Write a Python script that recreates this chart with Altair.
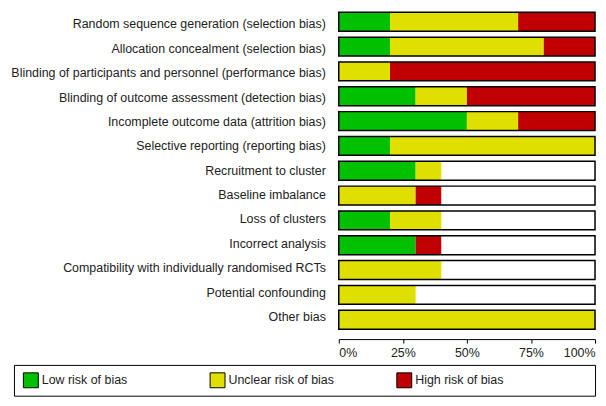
import altair as alt
import pandas as pd

FONT = "Liberation Sans"
FS = 12.5
TXT = "#222"

categories = [
    "Random sequence generation (selection bias)",
    "Allocation concealment (selection bias)",
    "Blinding of participants and personnel (performance bias)",
    "Blinding of outcome assessment (detection bias)",
    "Incomplete outcome data (attrition bias)",
    "Selective reporting (reporting bias)",
    "Recruitment to cluster",
    "Baseline imbalance",
    "Loss of clusters",
    "Incorrect analysis",
    "Compatibility with individually randomised RCTs",
    "Potential confounding",
    "Other bias",
]
low = [20, 20, 0, 30, 50, 20, 30, 0, 20, 30, 0, 0, 0]
unclear = [50, 60, 20, 20, 20, 80, 10, 30, 20, 0, 40, 30, 100]
high = [30, 20, 80, 50, 30, 0, 0, 10, 0, 10, 0, 0, 0]
levels = ["Low risk of bias", "Unclear risk of bias", "High risk of bias"]
colors = ["#00C000", "#E0E000", "#C00000"]
ticks = [0, 25, 50, 75, 100]

rows = []
for i, cat in enumerate(categories):
    start = 0
    for lev, vals in zip(levels, [low, unclear, high]):
        v = vals[i]
        if v > 0:
            rows.append({"category": cat, "level": lev, "start": start, "end": start + v})
        start += v
seg_df = pd.DataFrame(rows)
out_df = pd.DataFrame({"category": categories, "lo": [0] * len(categories), "hi": [100] * len(categories)})
leg_df = pd.DataFrame({"level": levels})

color_scale = alt.Scale(domain=levels, range=colors)
band = alt.Scale(paddingInner=0.24, paddingOuter=0)
no_view = alt.ViewBackground(strokeWidth=0)

# category labels (right-aligned text column)
labels = alt.Chart(out_df).mark_text(
    align="right", baseline="middle", fontSize=FS, font=FONT, color=TXT
).encode(
    x=alt.X("hi:Q", scale=alt.Scale(domain=[0, 100]), axis=None),
    y=alt.Y("category:N", sort=categories, scale=band, axis=None),
    text="category:N",
).properties(width=314, height=319, view=no_view)

x_enc = alt.X(
    "start:Q", title=None, scale=alt.Scale(domain=[0, 100], nice=False),
    axis=alt.Axis(values=ticks, labelExpr="datum.value + '%'", grid=False, offset=10,
                  tickSize=4, labelFlush=True, domainColor="black", tickColor="black",
                  labelColor=TXT, labelFont=FONT, labelFontSize=FS, labelPadding=4),
)
y_enc = alt.Y("category:N", sort=categories, scale=band, axis=None)

segments = alt.Chart(seg_df).mark_bar(strokeWidth=0).encode(
    x=x_enc, x2="end:Q", y=y_enc,
    color=alt.Color("level:N", scale=color_scale, legend=None),
)
outline = alt.Chart(out_df).mark_bar(fill="transparent", stroke="black", strokeWidth=1.5).encode(
    x=alt.X("lo:Q", title=None), x2="hi:Q", y=y_enc,
)
bars = alt.layer(segments, outline).properties(width=258, height=319, view=no_view)

top = alt.hconcat(labels, bars, spacing=12)

lx = alt.X("level:N", sort=levels, title=None,
           scale=alt.Scale(type="point", padding=0.556, align=0.0813, round=False), axis=None)
sq = alt.Chart(leg_df).mark_square(size=225, stroke="black", strokeWidth=1, opacity=1).encode(
    x=lx, color=alt.Color("level:N", scale=color_scale, legend=None)
)
txt = alt.Chart(leg_df).mark_text(align="left", dx=11, fontSize=FS, color=TXT, font=FONT).encode(
    x=lx, text="level:N"
)
bottom = alt.layer(sq, txt).properties(
    width=585, height=31, view=alt.ViewBackground(stroke="black", strokeWidth=1)
)

chart = alt.vconcat(top, bottom, spacing=4).properties(
    padding={"left": 3, "top": 2, "right": 2, "bottom": 2}
)
chart.save("out.html", embed_options={"renderer": "svg", "actions": False})
